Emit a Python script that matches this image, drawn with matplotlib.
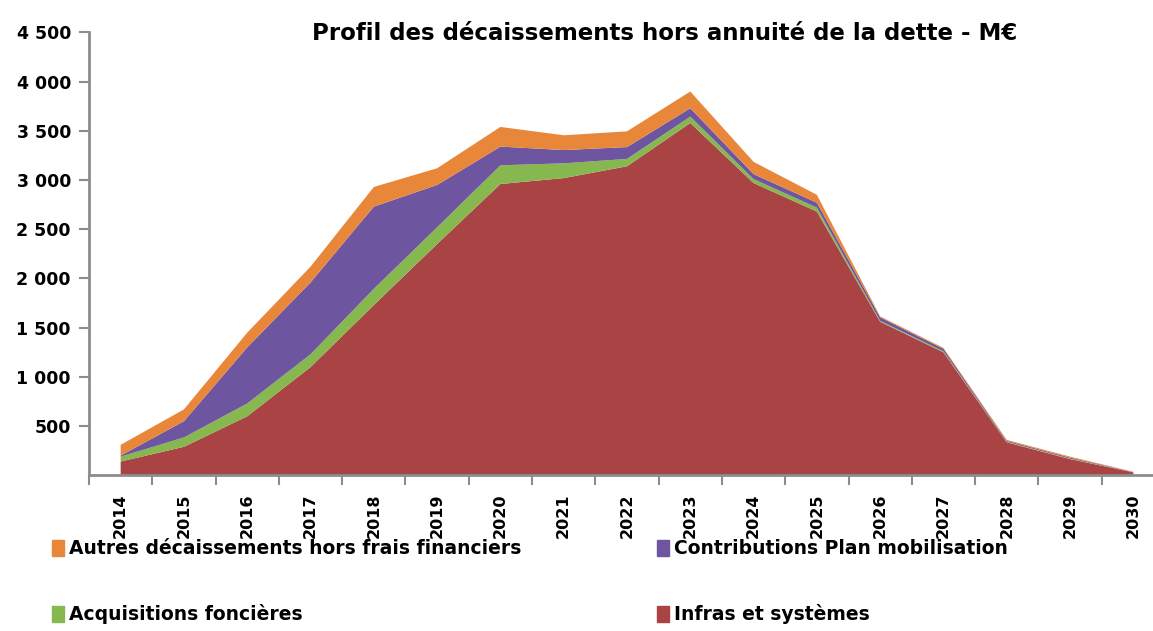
import numpy as np
import matplotlib
matplotlib.use("Agg")
import matplotlib.pyplot as plt
from matplotlib.patches import Patch

plt.rcParams["font.family"] = "DejaVu Sans"

years = [str(y) for y in range(2014, 2031)]

# M€ per year
infras = [140, 290, 600, 1100, 1730, 2350, 2960, 3020, 3140, 3580, 2970, 2680, 1560, 1250, 335, 165, 30]
acquisitions = [50, 95, 130, 130, 165, 170, 190, 150, 75, 65, 40, 40, 10, 10, 5, 5, 2]
contributions = [10, 165, 570, 730, 835, 430, 190, 135, 120, 85, 50, 50, 35, 25, 10, 10, 2]
autres = [110, 120, 150, 160, 200, 170, 200, 150, 160, 170, 125, 80, 10, 10, 10, 10, 3]

labels = ["Infras et systèmes", "Acquisitions foncières",
          "Contributions Plan mobilisation",
          "Autres décaissements hors frais financiers"]
colors = ["#AA4444", "#87B74F", "#6E55A0", "#E8873A"]

fig = plt.figure(figsize=(11.53, 6.31), dpi=100)
ax = fig.add_axes([89 / 1153, 0.2467, 1076 / 1153, 0.7019])

x = np.arange(len(years))
ax.stackplot(x, infras, acquisitions, contributions, autres,
             colors=colors, linewidth=0)

ax.set_xlim(-0.5, len(years) - 0.5)
ax.set_ylim(0, 4500)

yt = np.arange(500, 4501, 500)
ax.set_yticks(yt)
ax.set_yticklabels([f"{v:,}".replace(",", " ") for v in yt],
                   fontsize=12.5, fontweight="bold")
ax.tick_params(axis="y", length=7, width=1.5, color="#8c8c8c", pad=6)

ax.set_xticks(x)
ax.set_xticklabels(years, rotation=90, fontsize=11.5, fontweight="bold")
ax.set_xticks(np.arange(-0.5, len(years), 1), minor=True)
ax.tick_params(axis="x", which="major", length=0, pad=13)
ax.tick_params(axis="x", which="minor", length=7, width=1.5, color="#8c8c8c")

for s in ["top", "right"]:
    ax.spines[s].set_visible(False)
for s in ["left", "bottom"]:
    ax.spines[s].set_color("#8c8c8c")
    ax.spines[s].set_linewidth(2)

fig.text(665 / 1153, 1 - 33 / 631,
         "Profil des décaissements hors annuité de la dette - M€",
         ha="center", va="center", fontsize=16.5, fontweight="bold")

h = [Patch(color=c) for c in colors]
legend_kw = dict(loc="upper left", frameon=False, handlelength=0.65,
                 handleheight=0.9, handletextpad=0.3, labelspacing=2.45,
                 borderaxespad=0, prop={"size": 13.5, "weight": "bold"})
fig.legend([h[3], h[1]], [labels[3], labels[1]],
           bbox_to_anchor=(44 / 1153, 1 - 532 / 631), **legend_kw)
fig.legend([h[2], h[0]], [labels[2], labels[0]],
           bbox_to_anchor=(649 / 1153, 1 - 532 / 631), **legend_kw)

fig.savefig("out.png", dpi=100)
